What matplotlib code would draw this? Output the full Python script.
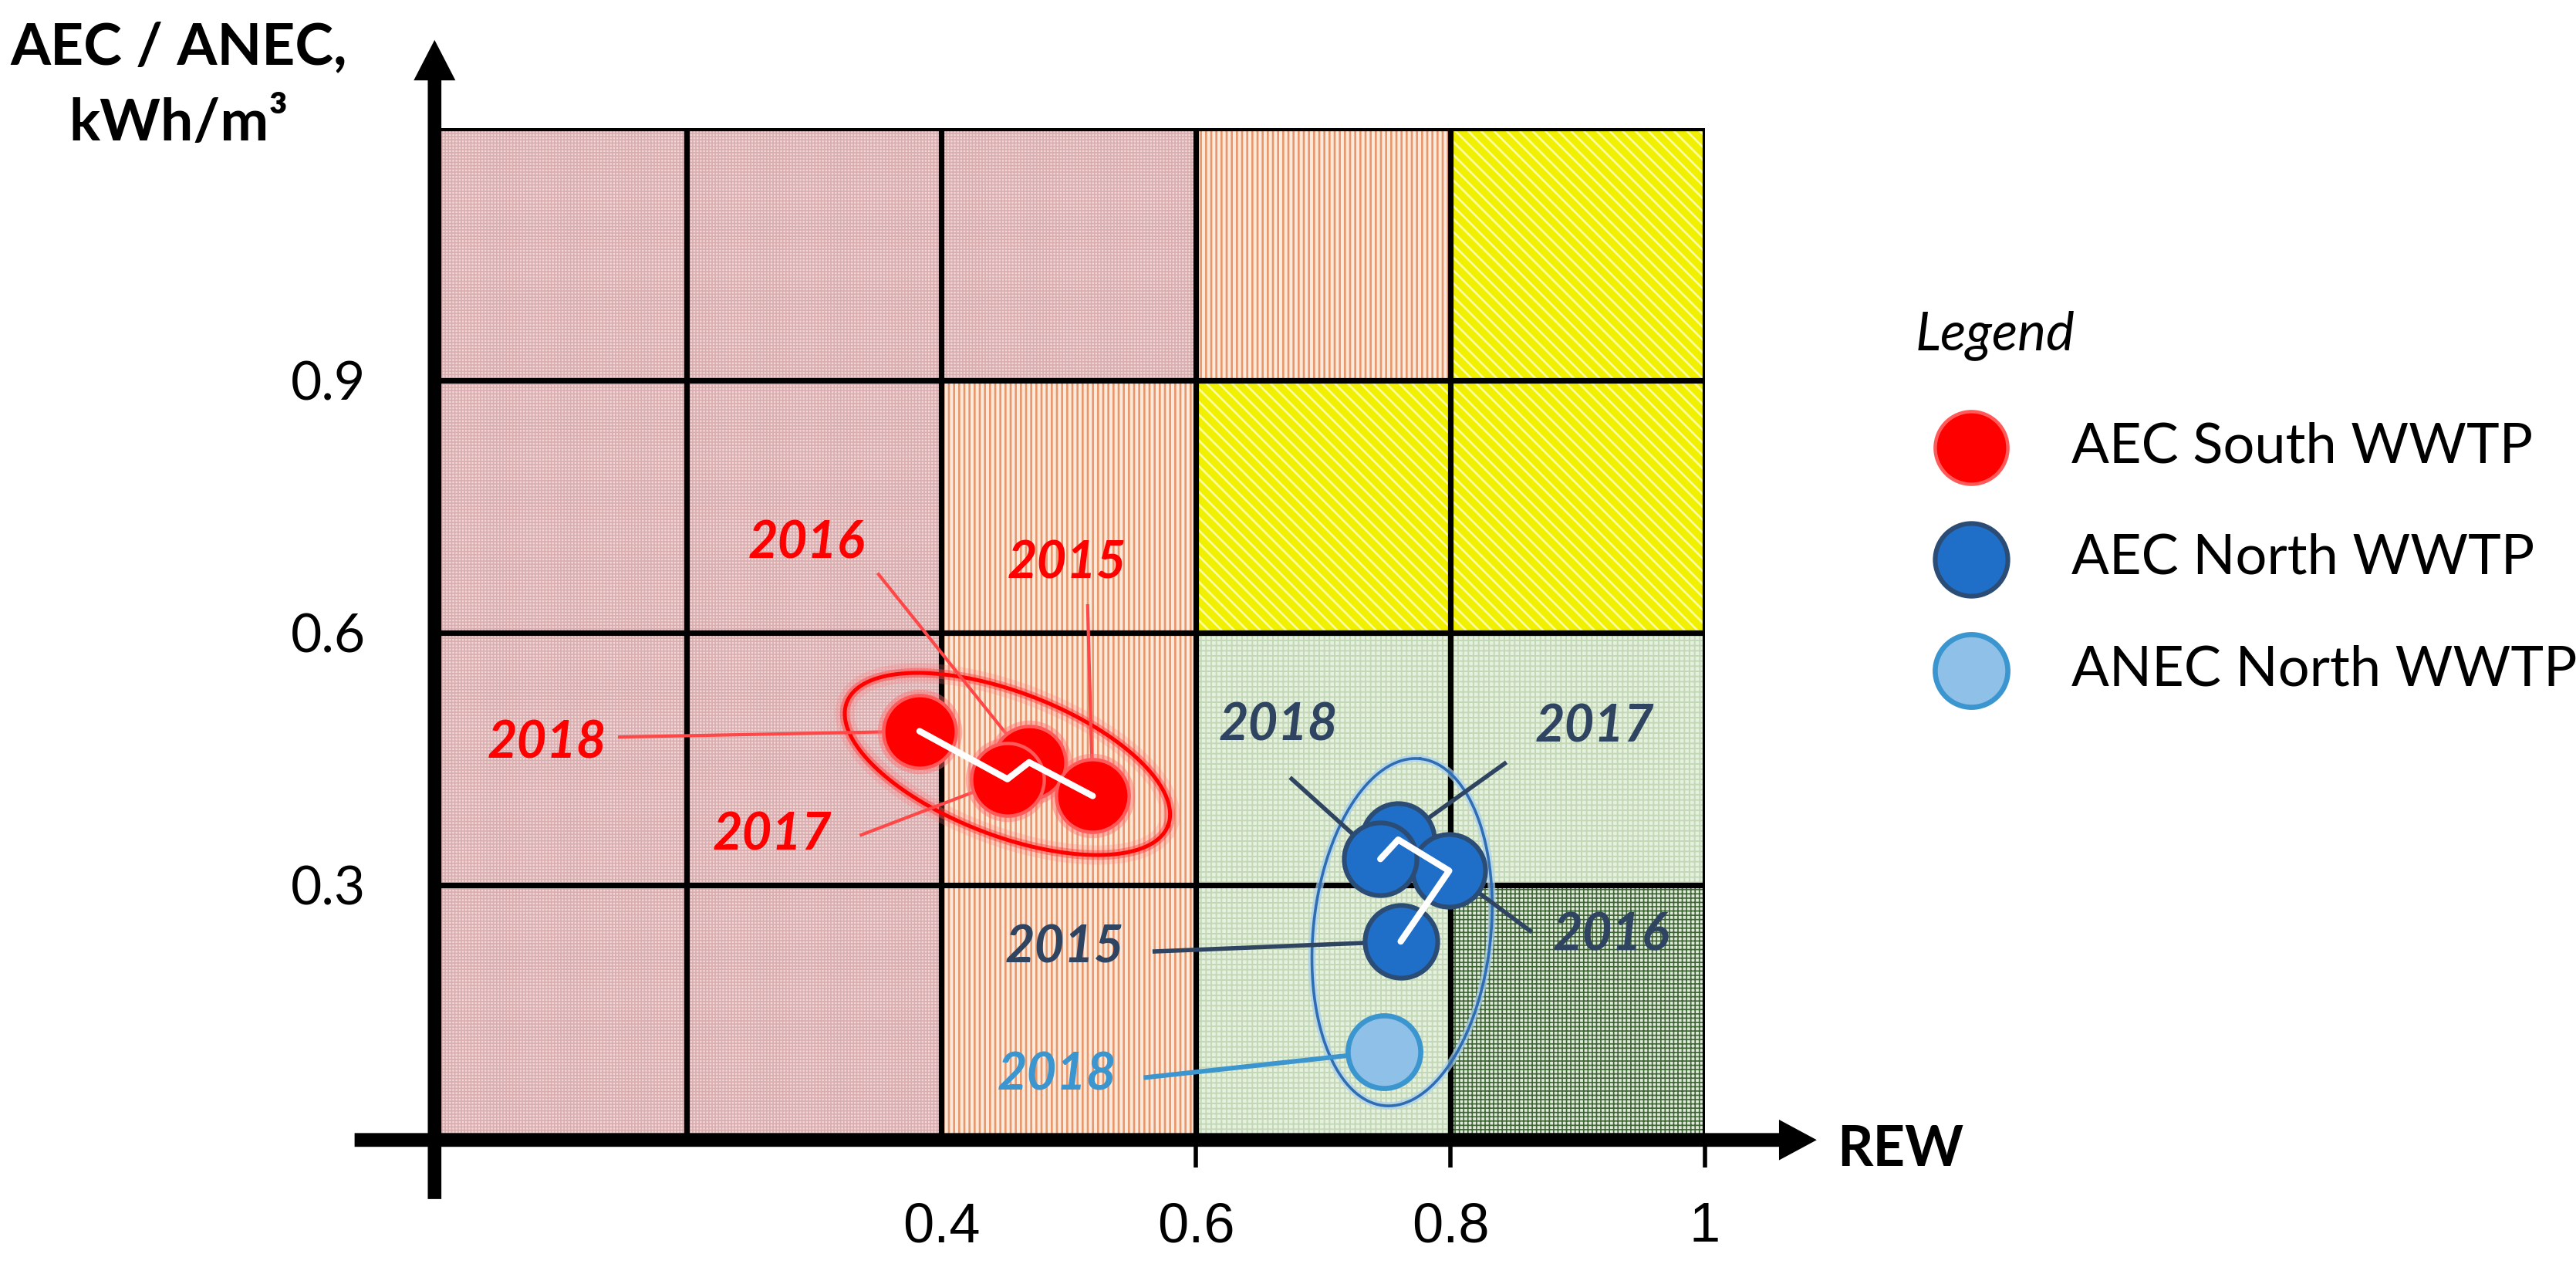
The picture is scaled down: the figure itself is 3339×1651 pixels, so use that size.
import numpy as np
import matplotlib
matplotlib.use("Agg")
import matplotlib.pyplot as plt
from matplotlib.patches import Rectangle

# ── DATA ──────────────────────────────────────────────────────────
years = [2015, 2016, 2017, 2018]
rew_south = [0.519, 0.469, 0.452, 0.383]
aec_south = [0.406, 0.446, 0.426, 0.483]
rew_north = [0.761, 0.799, 0.759, 0.745]
aec_north = [0.233, 0.317, 0.354, 0.331]
anec_years = [2018]
rew_anec_north = [0.748]
anec_north = [0.102]

rew_edges = [0.0, 0.2, 0.4, 0.6, 0.8, 1.0]
aec_edges = [0.0, 0.3, 0.6, 0.9, 1.2]
# zone of every cell, bottom row first
zones = [
    ["P", "P", "O", "G", "D"],
    ["P", "P", "O", "G", "G"],
    ["P", "P", "O", "Y", "Y"],
    ["P", "P", "P", "O", "Y"],
]
x_ticks = [0.4, 0.6, 0.8, 1.0]
x_tick_labels = ["0.4", "0.6", "0.8", "1"]
y_ticks = [0.3, 0.6, 0.9]
y_tick_labels = ["0.3", "0.6", "0.9"]
series_labels = ["AEC South WWTP", "AEC North WWTP", "ANEC North WWTP"]

# ── STYLE / LAYOUT ────────────────────────────────────────────────
zone_style = {  # face, hatch, hatch colour, hatch lw
    "P": ("#f2d6d6", "++++++++", "#d9aeb0", 0.6),
    "O": ("#fde9da", "|||||", "#e8976c", 0.95),
    "Y": ("#f0f000", "\\\\\\\\", "#fcfca0", 1.0),
    "G": ("#e6f0df", "+++++", "#c3d8b6", 0.7),
    "D": ("#dfeadb", "++++++", "#3e6434", 0.6),
}
RED, RED_LINE = "#ff0000", "#ff4747"
BLUE, BLUE_EDGE, SLATE = "#1f6fc8", "#2b4c74", "#2e4461"
LBLUE, LBLUE_EDGE = "#8ec0e8", "#3b95cf"

# label centre and leader start (data coords), per year
south_lbl = {2018: (0.090, 0.469, 0.146, 0.476),
             2017: (0.267, 0.360, 0.336, 0.359),
             2016: (0.294, 0.706, 0.350, 0.671),
             2015: (0.499, 0.683, 0.515, 0.634)}
north_lbl = {2018: (0.665, 0.490, 0.674, 0.428),
             2017: (0.913, 0.488, 0.844, 0.446),
             2016: (0.926, 0.240, 0.864, 0.244),
             2015: (0.497, 0.226, 0.566, 0.221)}
anec_lbl = {2018: (0.491, 0.074, 0.559, 0.071)}

FONT = ["Lato", "DejaVu Sans"]
NARROW = ["Liberation Sans Narrow", "Liberation Sans", "DejaVu Sans"]
plt.rcParams["font.family"] = FONT

W, H, DPI = 3339, 1651, 200
fig = plt.figure(figsize=(W / DPI, H / DPI), dpi=DPI, facecolor="white")
ax = fig.add_axes([560 / W, 1 - 1474 / H, 1650 / W, 1308 / H])
ax.set_xlim(0, 1.0)
ax.set_ylim(0, 1.2)
for sp in ax.spines.values():
    sp.set_visible(False)

# ── zone cells ────────────────────────────────────────────────────
for r, row in enumerate(zones):
    for c, z in enumerate(row):
        face, hatch, hcol, hlw = zone_style[z]
        plt.rcParams["hatch.linewidth"] = hlw
        rect = Rectangle((rew_edges[c], aec_edges[r]),
                         rew_edges[c + 1] - rew_edges[c],
                         aec_edges[r + 1] - aec_edges[r],
                         facecolor=face, edgecolor=hcol, hatch=hatch,
                         linewidth=0, zorder=0)
        if hasattr(rect, "set_hatch_linewidth"):
            rect.set_hatch_linewidth(hlw)
        ax.add_patch(rect)

ax.vlines(rew_edges[1:], 0, aec_edges[-1], color="black", lw=2.6,
          zorder=2, capstyle="projecting")
ax.hlines(aec_edges[1:], 0, rew_edges[-1], color="black", lw=2.6,
          zorder=2, capstyle="projecting")

# ── axes arrows ───────────────────────────────────────────────────
ax.arrow(-0.06, -0.003, 1.146, 0, width=0.0138, head_width=0.044,
         head_length=0.027, length_includes_head=True, color="black",
         clip_on=False, zorder=3)
ax.arrow(0.002, -0.072, 0, 1.374, width=0.009, head_width=0.030,
         head_length=0.044, length_includes_head=True, color="black",
         clip_on=False, zorder=3)
ax.vlines(x_ticks[1:], -0.036, 0, color="black", lw=2, clip_on=False,
          zorder=3)

ax.set_xticks(x_ticks, x_tick_labels)
ax.set_yticks(y_ticks, y_tick_labels)
ax.tick_params(axis="x", length=0, pad=30, labelsize=26)
ax.tick_params(axis="y", length=0, pad=31, labelsize=25)
for t in ax.get_xticklabels():
    t.set_family(NARROW)

ax.text(-0.199, 1.276, "AEC / ANEC,", fontsize=27, fontweight="bold",
        ha="center", va="baseline", clip_on=False)
ax.text(-0.199, 1.185, "kWh/m³", fontsize=27, fontweight="bold",
        ha="center", va="baseline", clip_on=False)
ax.text(1.104, -0.015, "REW", fontsize=26, fontweight="bold",
        ha="left", va="center", clip_on=False)


# ── clusters (ellipses drawn in pixel space) ──────────────────────
def ellipse_xy(cx, cy, a_px, b_px, angle_deg):
    t = np.linspace(0, 2 * np.pi, 300)
    x0, y0 = ax.transData.transform((cx, cy))
    th = np.deg2rad(angle_deg)
    dx = a_px * np.cos(t) * np.cos(th) - b_px * np.sin(t) * np.sin(th)
    dy = a_px * np.cos(t) * np.sin(th) + b_px * np.sin(t) * np.cos(th)
    pts = ax.transData.inverted().transform(np.column_stack([x0 + dx, y0 + dy]))
    return pts[:, 0], pts[:, 1]


ex, ey = ellipse_xy(0.452, 0.444, 223, 93, -21)
ax.plot(ex, ey, color="#ff7a7a", lw=9, alpha=0.25, zorder=4)
ax.plot(ex, ey, color="#ff4040", lw=4.5, alpha=0.45, zorder=4)
ax.plot(ex, ey, color=RED, lw=1.8, zorder=4)

ex, ey = ellipse_xy(0.762, 0.244, 226, 115, 84)
ax.plot(ex, ey, color="#a9d0f0", lw=3.5, alpha=0.7, zorder=4)
ax.plot(ex, ey, color="#2f6db3", lw=1.3, zorder=4)

# ── leaders & labels ──────────────────────────────────────────────
def leaders(lbls, yrs, xs, ys, lcolor, tcolor, lw):
    for yr, x, y in zip(yrs, xs, ys):
        tx, ty, lx, ly = lbls[yr]
        ax.plot([lx, x], [ly, y], color=lcolor, lw=lw, zorder=5,
                solid_capstyle="butt")
        ax.text(tx, ty, str(yr), color=tcolor, fontsize=24,
                fontweight="bold", style="italic", ha="center",
                va="center", zorder=8)


leaders(south_lbl, years, rew_south, aec_south, RED_LINE, RED, 1.5)
leaders(north_lbl, years, rew_north, aec_north, SLATE, SLATE, 2.0)
leaders(anec_lbl, anec_years, rew_anec_north, anec_north,
        LBLUE_EDGE, LBLUE_EDGE, 2.2)

# ── points ────────────────────────────────────────────────────────
S = 1150
south_order = [1, 0, 2, 3]   # draw 2016 first, 2018 last
north_order = [2, 1, 0, 3]
sx = [rew_south[i] for i in south_order]
sy = [aec_south[i] for i in south_order]
nx = [rew_north[i] for i in north_order]
ny = [aec_north[i] for i in north_order]

ax.scatter(sx, sy, s=S * 1.35, color="#ff7070", alpha=0.45, lw=0, zorder=6)
sc_s = ax.scatter(sx, sy, s=S, color=RED, edgecolors="#ff5a5a",
                  linewidths=1.6, zorder=6)
sc_n = ax.scatter(nx, ny, s=S, color=BLUE, edgecolors=BLUE_EDGE,
                  linewidths=2.2, zorder=6)
sc_a = ax.scatter(rew_anec_north, anec_north, s=S, color=LBLUE,
                  edgecolors=LBLUE_EDGE, linewidths=2.4, zorder=6)

# white trajectory 2018 -> 2017 -> 2016 -> 2015
ax.plot(rew_south[::-1], aec_south[::-1], color="white", lw=3,
        solid_capstyle="round", zorder=7)
ax.plot(rew_north[::-1], aec_north[::-1], color="white", lw=3,
        solid_capstyle="round", zorder=7)

# ── legend ────────────────────────────────────────────────────────
fig.legend([sc_s, sc_n, sc_a], series_labels, title="Legend",
           loc="upper left", bbox_to_anchor=(2483 / W, 1 - 402 / H),
           frameon=False, fontsize=26, alignment="left",
           title_fontproperties={"style": "italic", "size": 25},
           labelspacing=1.1, handlelength=2.0, handletextpad=0.8,
           borderpad=0, borderaxespad=0, scatterpoints=1)

fig.savefig("out.png", dpi=DPI, facecolor="white")
